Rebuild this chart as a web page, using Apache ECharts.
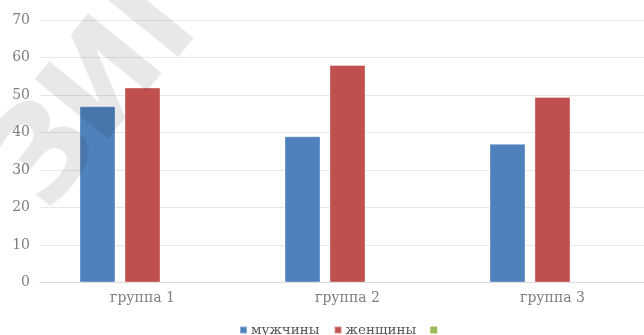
<!DOCTYPE html>
<html>
<head>
<meta charset="utf-8">
<script src="https://cdn.jsdelivr.net/npm/echarts@6/dist/echarts.min.js"></script>
<style>
html,body{margin:0;padding:0;background:#fff;overflow:hidden;}
#c{width:664px;height:335px;}
</style>
</head>
<body>
<div id="c"></div>
<script>
var categories = ['группа 1', 'группа 2', 'группа 3'];
var seriesNames = ['мужчины', 'женщины', ' '];
var men = [47, 39, 37];
var women = [52, 58, 49.5];
var third = [null, null, null];
var yTicks = [0, 10, 20, 30, 40, 50, 60, 70];

var chart = echarts.init(document.getElementById('c'), null, {renderer: 'canvas'});
var font = 'DejaVu Serif';
var ang = 51 * Math.PI / 180;
function wm(ch, x, y) {
  return {
    type: 'text', x: x, y: y, rotation: ang, z: 100, silent: true,
    style: {text: ch, x: 0, y: 0, font: 'bold 130px "DejaVu Sans"', fill: 'rgba(0,0,0,0.09)'}
  };
}
chart.setOption({
  animation: false,
  color: ['#4F81BD', '#C0504D', '#9BBB59'],
  grid: {left: 40, top: 20, width: 615, height: 262.5, containLabel: false},
  legend: {
    data: seriesNames,
    left: 234,
    top: 318,
    itemWidth: 7,
    itemHeight: 7,
    itemGap: 14,
    icon: 'rect',
    textStyle: {fontFamily: font, fontSize: 13.5, color: '#595959', padding: [0,0,0,-1]}
  },
  xAxis: {
    type: 'category',
    data: categories,
    axisLine: {lineStyle: {color: '#D9D9D9'}},
    axisTick: {show: false},
    axisLabel: {fontFamily: font, fontSize: 14, color: '#7F7F7F', margin: 9}
  },
  yAxis: {
    type: 'value',
    min: yTicks[0],
    max: yTicks[yTicks.length - 1],
    interval: 10,
    axisLine: {show: false},
    axisTick: {show: false},
    splitLine: {lineStyle: {color: '#E8E8E8'}},
    axisLabel: {fontFamily: font, fontSize: 14, color: '#7F7F7F', margin: 10}
  },
  series: [
    {name: seriesNames[0], type: 'bar', data: men, barWidth: 36, barGap: '25%', itemStyle: {borderColor: 'rgba(255,255,255,0.35)', borderWidth: 1}},
    {name: seriesNames[1], type: 'bar', data: women, barWidth: 36, barGap: '25%', itemStyle: {borderColor: 'rgba(255,255,255,0.35)', borderWidth: 1}},
    {name: seriesNames[2], type: 'bar', data: third, barWidth: 36, barGap: '25%'}
  ],
  graphic: [wm('З', -30, 152), wm('И', 24, 86), wm('І', 94, 4)]
});
</script>
</body>
</html>
